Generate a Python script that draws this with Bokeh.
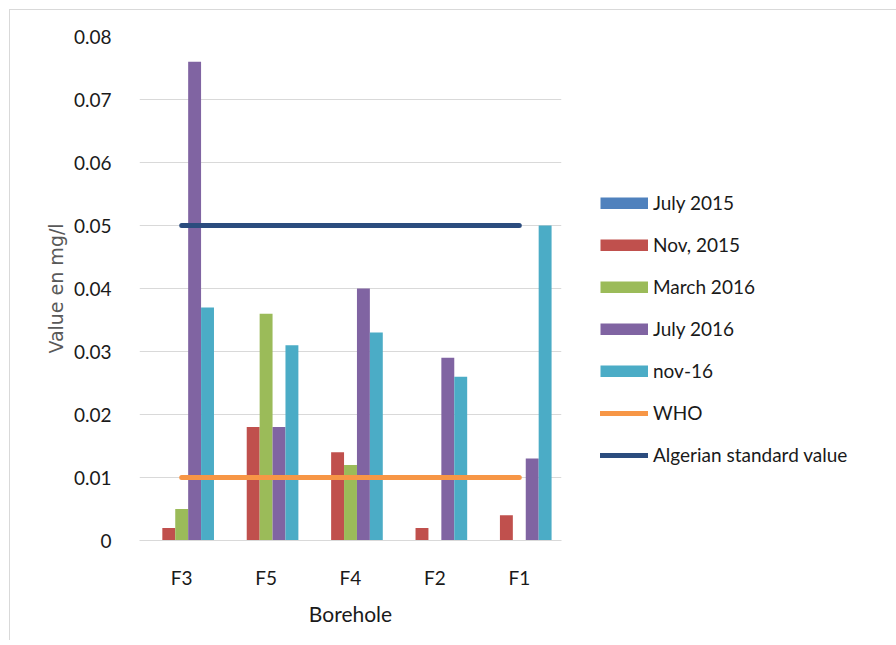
from bokeh.plotting import figure
from bokeh.models import FactorRange, Range1d, Legend, LegendItem, FixedTicker
from bokeh.transform import dodge
from bokeh.embed import file_html
from bokeh.resources import INLINE

# ---- data ----
boreholes = ["F3", "F5", "F4", "F2", "F1"]
july_2015 = [0, 0, 0, 0, 0]
nov_2015 = [0.002, 0.018, 0.014, 0.002, 0.004]
march_2016 = [0.005, 0.036, 0.012, 0, 0]
july_2016 = [0.076, 0.018, 0.040, 0.029, 0.013]
nov_16 = [0.037, 0.031, 0.033, 0.026, 0.050]
who = [0.01, 0.01, 0.01, 0.01, 0.01]
algerian = [0.05, 0.05, 0.05, 0.05, 0.05]
y_ticks = [0, 0.01, 0.02, 0.03, 0.04, 0.05, 0.06, 0.07, 0.08]
y_tick_labels = ["0", "0.01", "0.02", "0.03", "0.04", "0.05", "0.06", "0.07", "0.08"]

series_names = ["July 2015", "Nov, 2015", "March 2016", "July 2016", "nov-16"]
series_values = [july_2015, nov_2015, march_2016, july_2016, nov_16]
series_colors = ["#4F81BD", "#C0504D", "#9BBB59", "#8064A2", "#4BACC6"]

FONT = "Lato"

p = figure(frame_width=422, frame_height=504,
           x_range=FactorRange(factors=boreholes),
           y_range=Range1d(0, 0.08),
           output_backend="svg", toolbar_location=None,
           min_border_left=129, min_border_top=26,
           min_border_right=331, min_border_bottom=100)
p.styles = {"border-left": "1px solid #d9d9d9", "border-top": "1px solid #d9d9d9",
            "border-right": "1px solid #d9d9d9",
            "margin-left": "9px", "margin-top": "9px"}
p.outline_line_color = None
p.background_fill_color = "white"

source = {"borehole": boreholes}
for name, vals in zip(series_names, series_values):
    source[name] = vals

bar_w = 0.153
offsets = [-2 * bar_w, -bar_w, 0, bar_w, 2 * bar_w]
items = []
for name, vals, col, off in zip(series_names, series_values, series_colors, offsets):
    p.vbar(x=dodge("borehole", off, range=p.x_range), top=name, width=bar_w,
           source=source, fill_color=col, line_color=None)
    # legend swatch only (a single undefined point draws nothing in the plot)
    sw = p.line(x=[boreholes[0]], y=[float("nan")], line_color=col,
                line_width=12, line_cap="butt")
    items.append(LegendItem(label=name, renderers=[sw]))

r_who = p.line(boreholes, who, line_color="#F79646", line_width=5, line_cap="round")
r_alg = p.line(boreholes, algerian, line_color="#2B4C7E", line_width=5, line_cap="round")
items.append(LegendItem(label="WHO", renderers=[r_who]))
items.append(LegendItem(label="Algerian standard value", renderers=[r_alg]))

# axes
p.yaxis.ticker = FixedTicker(ticks=y_ticks)
p.yaxis.major_label_overrides = {t: l for t, l in zip(y_ticks, y_tick_labels)}
p.yaxis.axis_line_color = None
p.yaxis.major_tick_line_color = None
p.yaxis.minor_tick_line_color = None
p.yaxis.major_label_standoff = 22
p.yaxis.major_label_text_font = FONT
p.yaxis.major_label_text_font_size = "19px"
p.yaxis.major_label_text_color = "#1a1a1a"
p.yaxis.axis_label = "Value en mg/l"
p.yaxis.axis_label_text_font = "DejaVu Sans"
p.yaxis.axis_label_text_font_style = "normal"
p.yaxis.axis_label_text_font_size = "19px"
p.yaxis.axis_label_text_color = "#595959"
p.yaxis.axis_label_standoff = 4

p.xaxis.axis_line_color = "#d9d9d9"
p.xaxis.major_tick_line_color = None
p.xaxis.minor_tick_line_color = None
p.xaxis.major_label_standoff = 19
p.xaxis.major_label_text_font = FONT
p.xaxis.major_label_text_font_size = "19px"
p.xaxis.major_label_text_color = "#1a1a1a"
p.xaxis.axis_label = "Borehole"
p.xaxis.axis_label_text_font = FONT
p.xaxis.axis_label_text_font_style = "normal"
p.xaxis.axis_label_text_font_size = "21px"
p.xaxis.axis_label_text_color = "#1a1a1a"
p.xaxis.axis_label_standoff = 9

p.xgrid.grid_line_color = None
p.ygrid.grid_line_color = "#d9d9d9"
p.ygrid.grid_line_width = 1

legend = Legend(items=items, location=(39, 74))
legend.padding = 0
legend.margin = 0
legend.border_line_color = None
legend.background_fill_alpha = 0
legend.glyph_width = 48
legend.glyph_height = 12
legend.label_height = 12
legend.spacing = 19
legend.label_standoff = 5
legend.label_text_font = FONT
legend.label_text_font_size = "19px"
legend.label_text_color = "#1a1a1a"
p.add_layout(legend, "right")

open("out.html", "w").write(file_html(p, INLINE))
